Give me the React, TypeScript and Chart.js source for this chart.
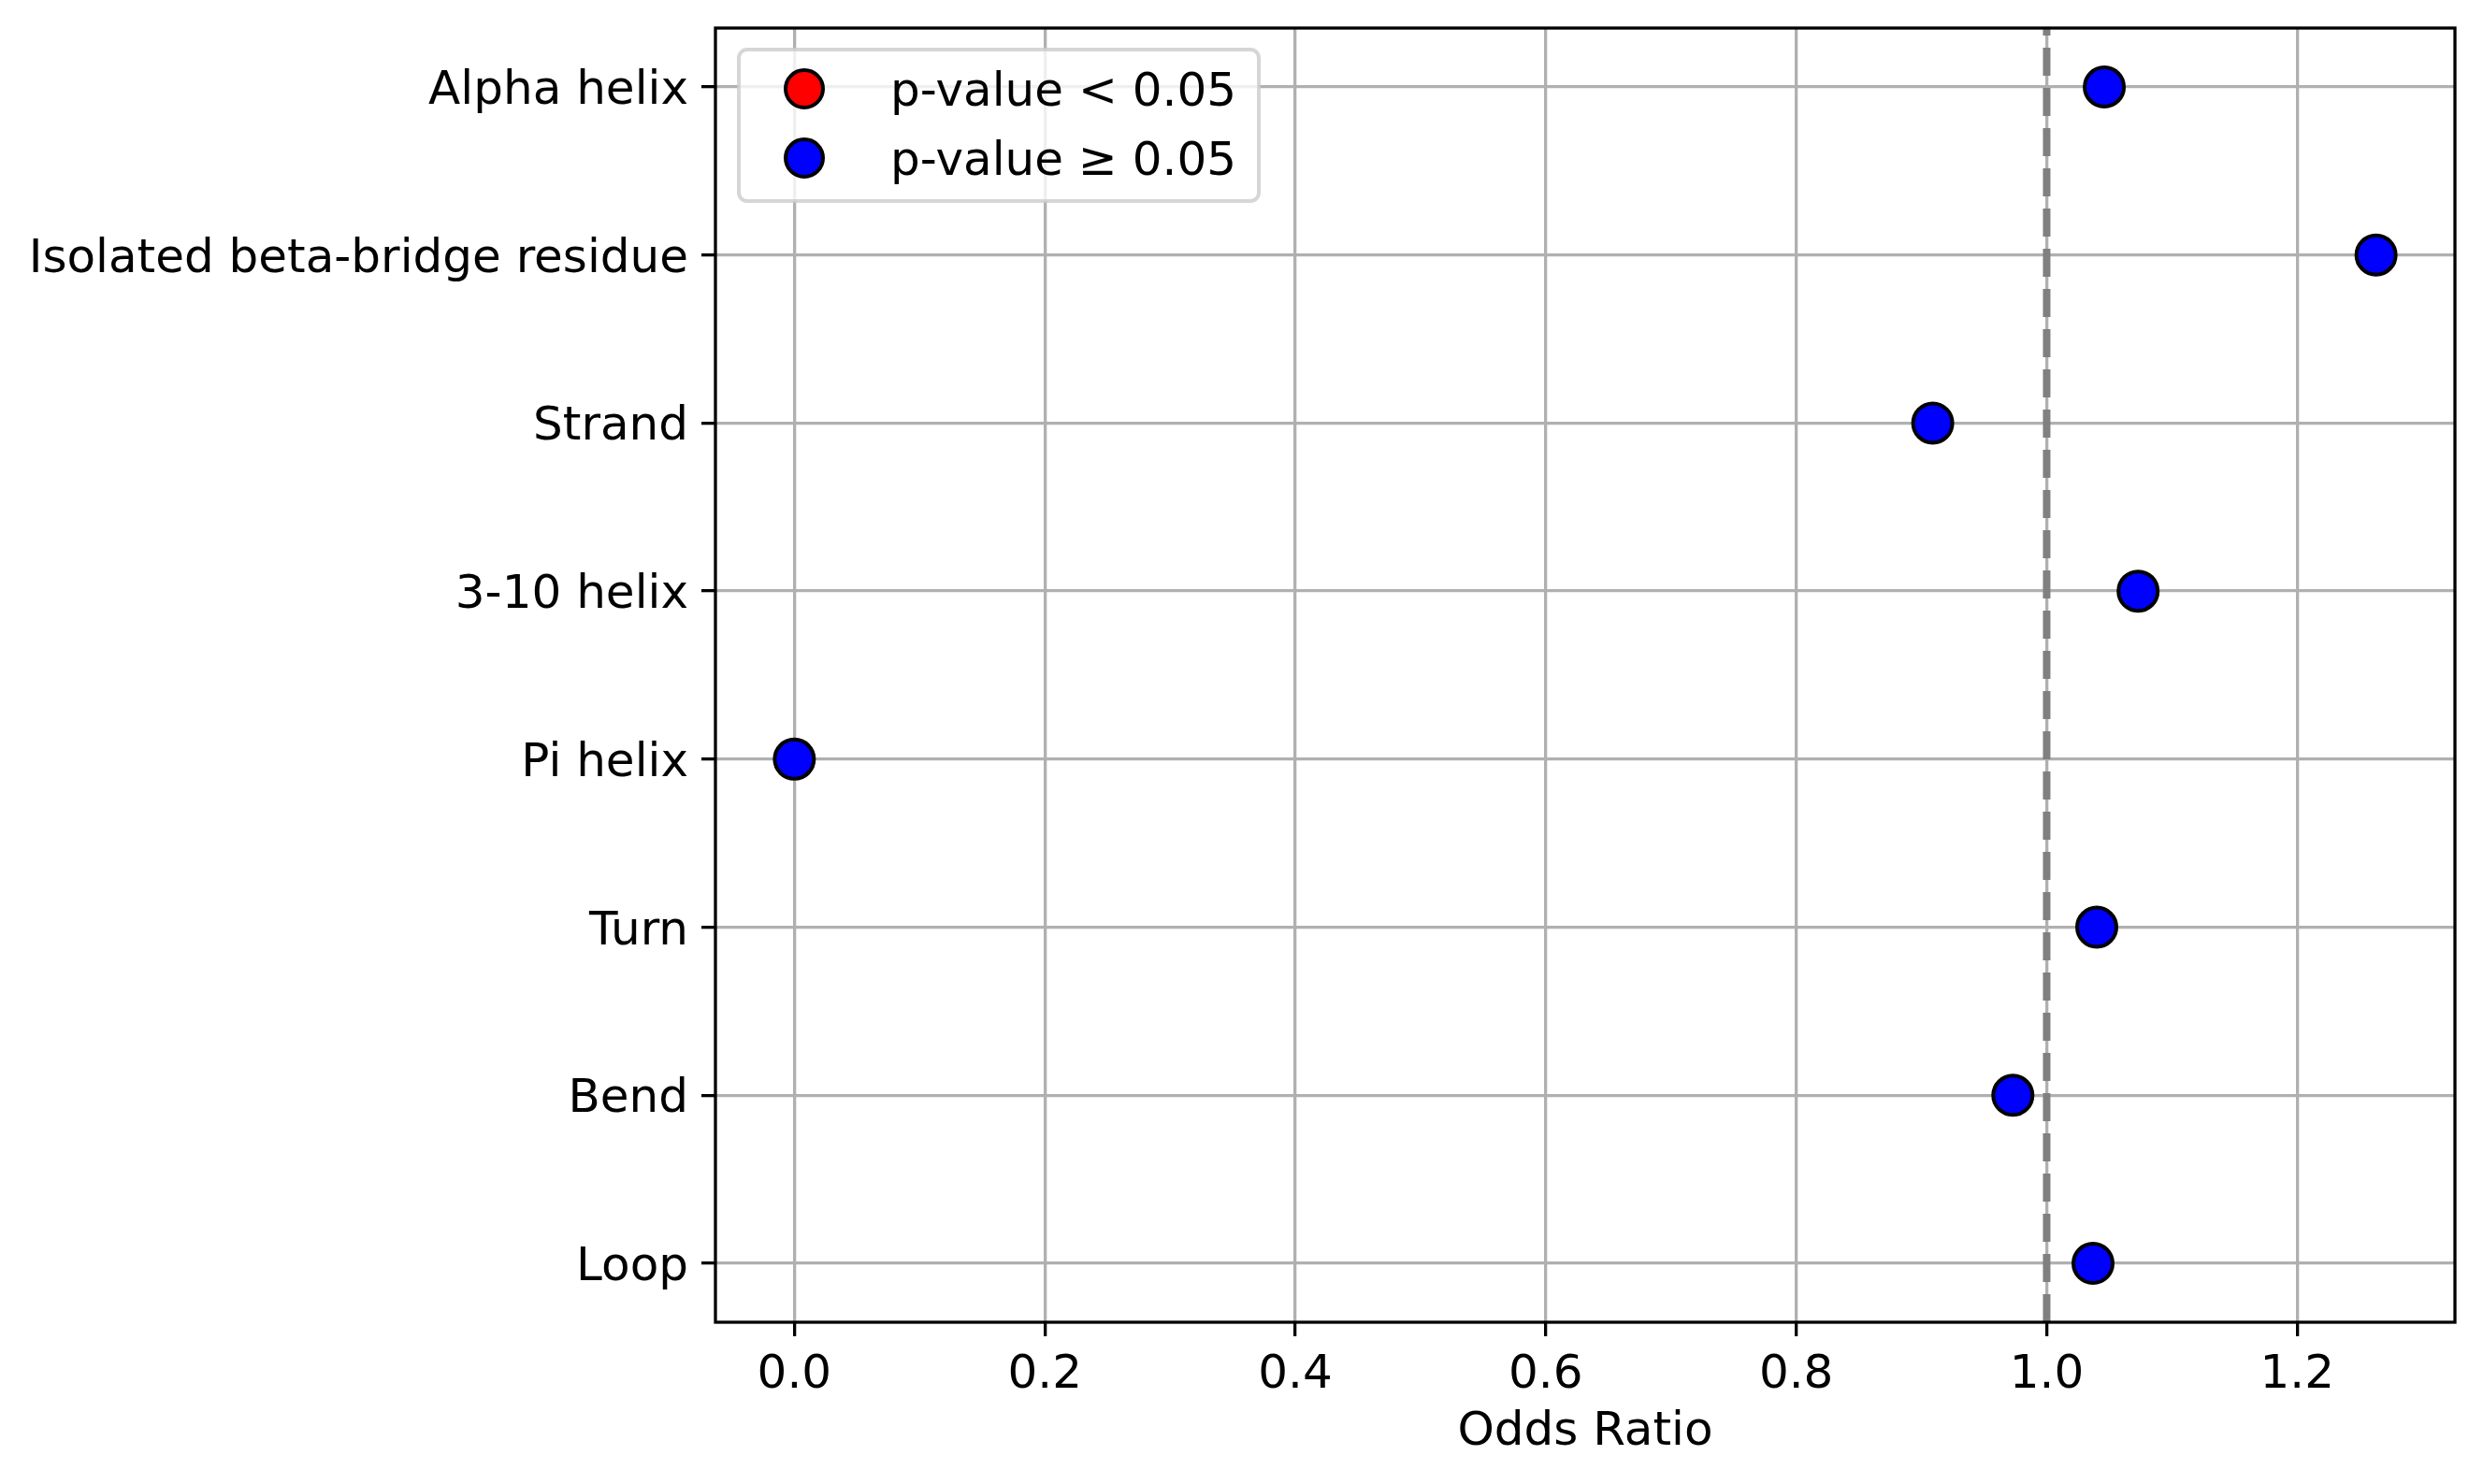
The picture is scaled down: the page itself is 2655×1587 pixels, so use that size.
import React, { useEffect, useRef } from 'react'
import { Chart, registerables } from 'chart.js'

Chart.register(...registerables)

const categories = [
  'Alpha helix',
  'Isolated beta-bridge residue',
  'Strand',
  '3-10 helix',
  'Pi helix',
  'Turn',
  'Bend',
  'Loop',
]
const oddsRatios = [1.046, 1.263, 0.909, 1.073, 0.0, 1.04, 0.973, 1.037]
const significant = [false, false, false, false, false, false, false, false]
const xTicks = [0, 0.2, 0.4, 0.6, 0.8, 1.0, 1.2]
const refLine = 1.0

const FONT = 'DejaVu Sans'

// vertical dashed reference line, full frame and the in-plot legend
const overlayPlugin = {
  id: 'overlay',
  afterDraw(chart: any) {
    const { ctx, chartArea: a, scales } = chart
    const x = scales.x.getPixelForValue(refLine)
    ctx.save()
    ctx.strokeStyle = '#808080'
    ctx.lineWidth = 8
    ctx.setLineDash([30, 13])
    ctx.beginPath()
    ctx.moveTo(x, a.bottom)
    ctx.lineTo(x, a.top)
    ctx.stroke()
    ctx.setLineDash([])

    ctx.strokeStyle = '#000'
    ctx.lineWidth = 3.3
    ctx.strokeRect(a.left, a.top, a.right - a.left, a.bottom - a.top)

    // legend
    const items = chart.data.datasets.filter((d: any) => d.label)
    ctx.font = `50px "${FONT}"`
    const textW = Math.max(...items.map((d: any) => ctx.measureText(d.label).width))
    const boxX = a.left + 25
    const boxY = a.top + 23
    const textX = a.left + 187
    const boxW = textX + textW + 24 - boxX
    const rowH = 74
    const boxH = 162
    ctx.beginPath()
    ctx.roundRect(boxX, boxY, boxW, boxH, 9)
    ctx.fillStyle = 'rgba(255,255,255,0.8)'
    ctx.fill()
    ctx.strokeStyle = 'rgba(204,204,204,0.8)'
    ctx.lineWidth = 4
    ctx.stroke()
    items.forEach((d: any, i: number) => {
      const cy = a.top + 65 + i * rowH
      ctx.beginPath()
      ctx.arc(a.left + 95, cy, 20, 0, Math.PI * 2)
      ctx.fillStyle = d.backgroundColor
      ctx.fill()
      ctx.strokeStyle = '#000'
      ctx.lineWidth = 4
      ctx.stroke()
      ctx.fillStyle = '#000'
      ctx.textAlign = 'left'
      ctx.textBaseline = 'middle'
      ctx.fillText(d.label, textX, cy + 5)
    })
    ctx.restore()
  },
}

const ForestPlot = () => {
  const chartRef = useRef<HTMLCanvasElement | null>(null)

  useEffect(() => {
    if (!chartRef.current) return
    document.body.style.margin = '0'
    Chart.defaults.font.family = FONT
    Chart.defaults.color = '#000'

    const points = categories.map((_, i) => ({ x: oddsRatios[i], y: i }))
    const sig = points.filter((_, i) => significant[i])
    const nonSig = points.filter((_, i) => !significant[i])

    const gridStyle = {
      color: '#b0b0b0',
      lineWidth: 3.3,
      tickColor: '#000',
      tickWidth: 3.3,
      tickLength: 15,
    }

    const chart = new Chart(chartRef.current, {
      type: 'scatter',
      data: {
        datasets: [
          {
            label: 'p-value < 0.05',
            data: sig,
            backgroundColor: '#ff0000',
            borderColor: '#000',
            borderWidth: 4,
            pointRadius: 21,
            pointHoverRadius: 21,
          },
          {
            label: 'p-value \u2265 0.05',
            data: nonSig,
            backgroundColor: '#0000ff',
            borderColor: '#000',
            borderWidth: 4,
            pointRadius: 21,
            pointHoverRadius: 21,
          },
        ],
      },
      options: {
        animation: false,
        responsive: true,
        maintainAspectRatio: false,
        devicePixelRatio: 1,
        layout: { padding: { top: 30, right: 30, left: 0, bottom: 0 } },
        plugins: {
          legend: { display: false },
          tooltip: { enabled: false },
        },
        scales: {
          x: {
            type: 'linear',
            min: -0.063,
            max: 1.326,
            z: 1,
            border: { display: false },
            grid: gridStyle,
            afterBuildTicks: (scale: any) => {
              scale.ticks = xTicks.map((v) => ({ value: v }))
            },
            afterFit: (scale: any) => {
              scale.height = 173
              scale.paddingLeft = 0
              scale.paddingRight = 0
            },
            ticks: {
              autoSkip: false,
              maxRotation: 0,
              padding: 12,
              font: { size: 50 },
              callback: (v: any) => Number(v).toFixed(1),
            },
            title: {
              display: true,
              text: 'Odds Ratio',
              font: { size: 50 },
              padding: { top: 0, bottom: 25 },
            },
          },
          y: {
            type: 'linear',
            min: -0.35,
            max: 7.35,
            reverse: true,
            z: 1,
            border: { display: false },
            grid: gridStyle,
            afterBuildTicks: (scale: any) => {
              scale.ticks = categories.map((_, i) => ({ value: i }))
            },
            afterFit: (scale: any) => {
              scale.width = 765
              scale.paddingTop = 0
              scale.paddingBottom = 0
            },
            ticks: {
              autoSkip: false,
              padding: 14,
              labelOffset: 5,
              font: { size: 50 },
              callback: (v: any) => categories[v] ?? '',
            },
          },
        },
      },
      plugins: [overlayPlugin],
    })

    return () => chart.destroy()
  }, [])

  return (
    <div style={{ position: 'relative', width: '2655px', height: '1587px', background: '#fff' }}>
      <canvas ref={chartRef} />
    </div>
  )
}

export default function App() {
  return <ForestPlot />
}
